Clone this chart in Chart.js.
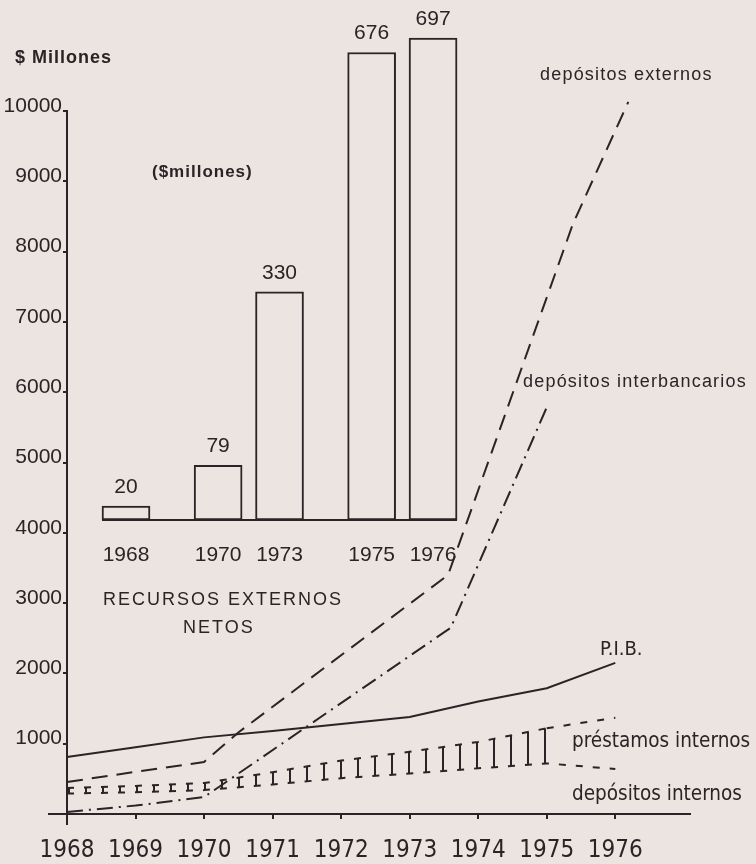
<!DOCTYPE html>
<html>
<head>
<meta charset="utf-8">
<script src="https://cdn.jsdelivr.net/npm/chart.js@4.4.1/dist/chart.umd.min.js"></script>
<style>
  html, body { margin: 0; padding: 0; background: #ebe4e0; }
  #wrap { position: relative; width: 756px; height: 864px; }
  canvas { position: absolute; left: 0; top: 0; }
</style>
</head>
<body>
<div id="wrap">
  <canvas id="lines" width="756" height="864"></canvas>
  <canvas id="bars" width="756" height="864"></canvas>
</div>
<script>
// main chart values ($ millones)
const years = [1968, 1969, 1970, 1971, 1972, 1973, 1974, 1975, 1976];
const pib = [810, 950, 1090, 1180, 1280, 1380, 1600, 1790, 2150];
const prestamosInternos = [370, 400, 440, 595, 760, 885, 1025, 1220, 1370];
const depositosInternos = [290, 310, 340, 420, 510, 575, 650, 720, 640];
// these two lines bend between the yearly marks
const externosYears = [1968, 1969, 1970, 1970.5, 1973.56, 1975.38, 1976.19];
const depositosExternos = [455, 600, 740, 1160, 3400, 8390, 10130];
const interbYears = [1968, 1969, 1970, 1973.6, 1975.02];
const depositosInterbancarios = [30, 120, 240, 2650, 5830];
const yTicks = [1000, 2000, 3000, 4000, 5000, 6000, 7000, 8000, 9000, 10000];

// inset: recursos externos netos
const netLabels = ['1968', '', '', '1970', '', '1973', '', '', '1975', '', '1976'];
const netValues = [20, null, null, 79, null, 330, null, null, 676, null, 697];

const INK = '#2a2426';
const BG = '#ebe4e0';
const NARROW = "'Liberation Sans Narrow', 'DejaVu Sans Condensed', 'Arial Narrow', sans-serif";
const SANS = "'Liberation Sans', Arial, sans-serif";

const toPts = (xs, ys) => xs.map((x, i) => ({x: x, y: ys[i]}));

function stripePattern() {
    const c = document.createElement('canvas');
    c.width = 17; c.height = 8;
    const g = c.getContext('2d');
    g.fillStyle = INK;
    g.fillRect(0, 0, 2, 8);
    return g.createPattern(c, 'repeat');
}
const hatch = stripePattern();

const lineBase = { pointRadius: 0, borderColor: INK, borderWidth: 2, tension: 0, fill: false, clip: false };

// annotations on the main chart
const textPlugin = {
    id: 'texts',
    afterDraw(chart) {
        const c = chart.ctx;
        const put = (txt, x, y, font, spacing) => {
            c.save();
            c.font = font;
            c.fillStyle = INK;
            c.textBaseline = 'middle';
            c.textAlign = 'left';
            c.letterSpacing = spacing || '0px';
            c.fillText(txt, x, y);
            c.restore();
        };
        put('$ Millones', 15, 58, 'bold 18px ' + SANS, '1px');
        put('($millones)', 152, 172, 'bold 17px ' + SANS, '1px');
        put('RECURSOS EXTERNOS', 103, 600, '18px ' + SANS, '2px');
        put('NETOS', 183, 628, '18px ' + SANS, '2px');
        put('depósitos externos', 540, 75, '18px ' + SANS, '1.2px');
        put('depósitos interbancarios', 523, 382, '18px ' + SANS, '1.2px');
        put('P.I.B.', 600, 650, '20px ' + NARROW);
        put('préstamos internos', 572, 742, '20.5px ' + NARROW);
        put('depósitos internos', 572, 795, '20.5px ' + NARROW);

        // small overhang of both axes past the origin
        const xs = chart.scales.x, ys = chart.scales.y;
        const x0 = xs.getPixelForValue(1968), y0 = ys.getPixelForValue(0);
        c.save();
        c.strokeStyle = INK; c.lineWidth = 2;
        c.beginPath();
        c.moveTo(x0 - 19, y0); c.lineTo(x0, y0);
        c.moveTo(x0, y0); c.lineTo(x0, y0 + 11);
        c.stroke();
        c.restore();
    }
};

new Chart(document.getElementById('lines'), {
    type: 'line',
    data: {
        datasets: [
            { ...lineBase, label: 'P.I.B.', data: toPts(years, pib) },
            { ...lineBase, label: 'depósitos externos', data: toPts(externosYears, depositosExternos), borderDash: [16, 9] },
            { ...lineBase, label: 'depósitos interbancarios', data: toPts(interbYears, depositosInterbancarios), borderDash: [16, 6, 2, 6] },
            { ...lineBase, label: 'préstamos internos', data: toPts(years, prestamosInternos), borderDash: [7, 10],
              fill: '+1', backgroundColor: hatch,
              // the last year is left open where the label sits
              segment: { backgroundColor: ctx => ctx.p0.parsed.x >= 1975 ? 'rgba(0,0,0,0)' : hatch } },
            { ...lineBase, label: 'depósitos internos', data: toPts(years, depositosInternos), borderDash: [7, 10] }
        ]
    },
    options: {
        responsive: false,
        animation: false,
        devicePixelRatio: 1,
        layout: { padding: { top: 111, right: 66, bottom: 0, left: 0 } },
        plugins: { legend: { display: false }, tooltip: { enabled: false } },
        scales: {
            x: {
                type: 'linear',
                min: 1968,
                max: 1977.09,
                afterBuildTicks: axis => { axis.ticks = years.map(v => ({ value: v })); },
                afterFit: axis => { axis.height = 50; },
                border: { display: true, color: INK, width: 2 },
                grid: { drawOnChartArea: false, color: INK, lineWidth: 2, tickLength: 5 },
                ticks: {
                    color: INK,
                    padding: 17,
                    maxRotation: 0,
                    autoSkip: false,
                    font: { family: NARROW, size: 24 },
                    callback: v => String(v)
                }
            },
            y: {
                min: 0,
                max: 10000,
                afterBuildTicks: axis => { axis.ticks = yTicks.map(v => ({ value: v })); },
                afterFit: axis => { axis.width = 67; },
                border: { display: true, color: INK, width: 2 },
                grid: { drawOnChartArea: false, color: INK, lineWidth: 2, tickLength: 4 },
                ticks: {
                    color: INK,
                    padding: 1,
                    labelOffset: -5,
                    font: { family: SANS, size: 21 },
                    callback: v => String(v)
                }
            }
        }
    },
    plugins: [textPlugin]
});

// value labels and the common baseline of the inset bars
const insetPlugin = {
    id: 'inset',
    afterDatasetsDraw(chart) {
        const c = chart.ctx;
        const meta = chart.getDatasetMeta(0);
        const bars = meta.data.filter((b, i) => netValues[i] !== null);
        const y0 = chart.scales.y.getPixelForValue(0);
        c.save();
        c.strokeStyle = INK; c.lineWidth = 2;
        c.beginPath();
        c.moveTo(bars[0].x - bars[0].width / 2, y0);
        c.lineTo(bars[bars.length - 1].x + bars[bars.length - 1].width / 2, y0);
        c.stroke();
        c.fillStyle = INK;
        c.font = '21px ' + SANS;
        c.textAlign = 'center';
        c.textBaseline = 'middle';
        meta.data.forEach((b, i) => {
            if (netValues[i] === null) return;
            c.fillText(String(netValues[i]), b.x, b.y - 19);
        });
        c.restore();
    }
};

new Chart(document.getElementById('bars'), {
    type: 'bar',
    data: {
        labels: netLabels,
        datasets: [{
            data: netValues,
            backgroundColor: BG,
            borderColor: INK,
            borderWidth: 2,
            borderSkipped: false,
            barThickness: 48,
            clip: false
        }]
    },
    options: {
        responsive: false,
        animation: false,
        devicePixelRatio: 1,
        layout: { padding: { top: 38, right: 307.6, bottom: 0, left: 110.65 } },
        plugins: { legend: { display: false }, tooltip: { enabled: false } },
        scales: {
            x: {
                afterFit: axis => { axis.height = 344; },
                border: { display: false },
                grid: { display: false },
                ticks: {
                    color: INK,
                    padding: 15,
                    autoSkip: false,
                    maxRotation: 0,
                    font: { family: SANS, size: 21 }
                }
            },
            y: { display: false, min: 0, max: 697 }
        }
    },
    plugins: [insetPlugin]
});
</script>
</body>
</html>
